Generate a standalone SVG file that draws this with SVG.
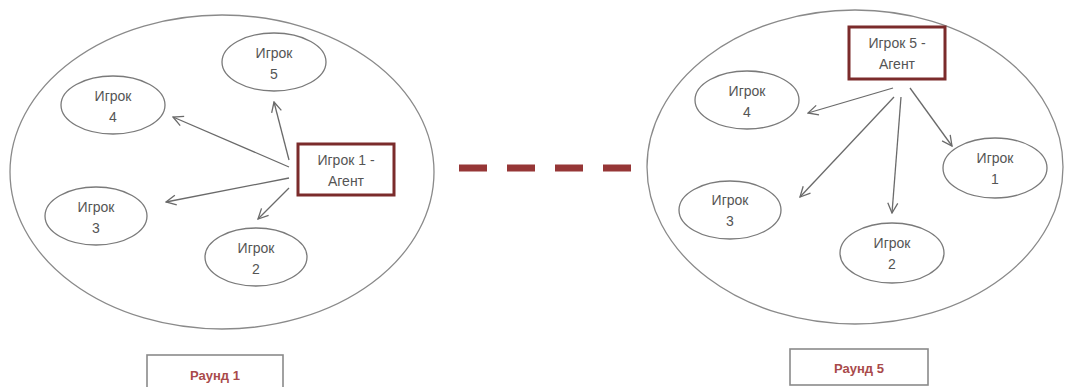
<svg xmlns="http://www.w3.org/2000/svg" width="1065" height="387" viewBox="0 0 1065 387">
<style>
.big{fill:#fff;stroke:#8a8a8a;stroke-width:1.3}
.pl{fill:#fff;stroke:#7a7a7a;stroke-width:1.3}
.ag{fill:#fff;stroke:#7b2b2b;stroke-width:3}
.rb{fill:#fff;stroke:#8a8a8a;stroke-width:1.6}
.t{font-family:"Liberation Sans",Arial,sans-serif;font-size:14px;fill:#555;text-anchor:middle}
.rt{font-family:"Liberation Sans",Arial,sans-serif;font-size:13px;font-weight:bold;fill:#a94a4a;text-anchor:middle}
.c{stroke:#6a6a6a;stroke-width:1.3;fill:none;marker-end:url(#ah)}
.dash{stroke:#963636;stroke-width:7;stroke-dasharray:28 20;fill:none}
</style>
<defs>
<marker id="ah" markerWidth="12" markerHeight="12" refX="11" refY="6" orient="auto" markerUnits="userSpaceOnUse">
<path d="M1,1 L11,6 L1,11" fill="none" stroke="#6a6a6a" stroke-width="1.3"/>
</marker>
</defs>
<rect width="1065" height="387" fill="#fff"/>
<g id="round1">
<ellipse class="big" cx="222" cy="172" rx="212" ry="157"/>
<g id="r1-p5"><ellipse class="pl" cx="274" cy="62" rx="52" ry="29"/><text class="t" x="274" y="58">Игрок</text><text class="t" x="274" y="79">5</text></g>
<g id="r1-p4"><ellipse class="pl" cx="113" cy="105" rx="52" ry="29"/><text class="t" x="113" y="101">Игрок</text><text class="t" x="113" y="122">4</text></g>
<g id="r1-p3"><ellipse class="pl" cx="96" cy="216" rx="51" ry="29"/><text class="t" x="96" y="212">Игрок</text><text class="t" x="96" y="233">3</text></g>
<g id="r1-p2"><ellipse class="pl" cx="256" cy="257" rx="51" ry="29"/><text class="t" x="256" y="253">Игрок</text><text class="t" x="256" y="274">2</text></g>
<g id="r1-agent"><rect class="ag" x="298" y="144" width="96" height="51"/><text class="t" x="346" y="165">Игрок 1 -</text><text class="t" x="346" y="186">Агент</text></g>
</g>
<g id="round5">
<ellipse class="big" cx="855" cy="167" rx="208" ry="157"/>
<g id="r5-p4"><ellipse class="pl" cx="747" cy="100" rx="52" ry="29"/><text class="t" x="747" y="96">Игрок</text><text class="t" x="747" y="117">4</text></g>
<g id="r5-p3"><ellipse class="pl" cx="730" cy="210" rx="51" ry="29"/><text class="t" x="730" y="205">Игрок</text><text class="t" x="730" y="226">3</text></g>
<g id="r5-p2"><ellipse class="pl" cx="892" cy="253" rx="52" ry="30"/><text class="t" x="892" y="248">Игрок</text><text class="t" x="892" y="269">2</text></g>
<g id="r5-p1"><ellipse class="pl" cx="995" cy="168" rx="52" ry="30"/><text class="t" x="995" y="163">Игрок</text><text class="t" x="995" y="184">1</text></g>
<g id="r5-agent"><rect class="ag" x="849" y="27" width="96" height="52"/><text class="t" x="897" y="48">Игрок 5 -</text><text class="t" x="897" y="69">Агент</text></g>
</g>
<g id="connectors">
<line class="c" x1="289" y1="160" x2="274" y2="102"/>
<line class="c" x1="289" y1="167" x2="173" y2="117"/>
<line class="c" x1="289" y1="178" x2="166" y2="202"/>
<line class="c" x1="289" y1="188" x2="258" y2="219"/>
<line class="c" x1="893" y1="88" x2="808" y2="113"/>
<line class="c" x1="894" y1="97" x2="800" y2="197"/>
<line class="c" x1="901" y1="97" x2="892" y2="213"/>
<line class="c" x1="910" y1="88" x2="952" y2="146"/>
<line class="dash" x1="459" y1="168" x2="631" y2="168"/>
</g>
<g id="label1"><rect class="rb" x="147" y="355" width="136" height="40"/><text class="rt" x="215" y="380">Раунд 1</text></g>
<g id="label5"><rect class="rb" x="790" y="349" width="138" height="36"/><text class="rt" x="859" y="373">Раунд 5</text></g>
</svg>
